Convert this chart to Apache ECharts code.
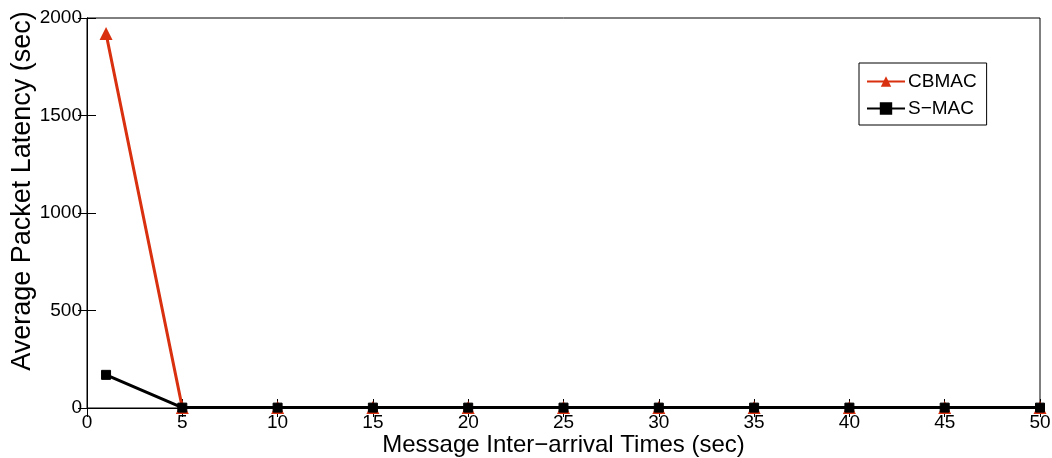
<!DOCTYPE html>
<html><head><meta charset="utf-8">
<script src="https://cdn.jsdelivr.net/npm/echarts@6/dist/echarts.min.js"></script>
<style>html,body{margin:0;padding:0;background:#fff}#c{width:1052px;height:458px}</style>
</head><body><div id="c"></div>
<script>
const xValues = [1, 5, 10, 15, 20, 25, 30, 35, 40, 45, 50];
const cbmac = [1920, 2, 2, 2, 2, 2, 2, 2, 2, 2, 2];
const smac = [170, 2, 2, 2, 2, 2, 2, 2, 2, 2, 2];
const seriesNames = ['CBMAC', 'S\u2212MAC'];
const xTitle = 'Message Inter\u2212arrival Times (sec)';
const yTitle = 'Average Packet Latency (sec)';

const font = 'Liberation Sans, Arial, Helvetica, sans-serif';
const chart = echarts.init(document.getElementById('c'));
const tickCommon = {inside: true, length: 9, lineStyle: {color: '#000', width: 1}};
chart.setOption({
  animation: false,
  backgroundColor: '#fff',
  grid: {left: 87, right: 12, top: 18, bottom: 50, show: true, borderColor: '#000', borderWidth: 1,
         containLabel: false, outerBoundsMode: 'none'},
  legend: {
    left: 859, top: 63, orient: 'vertical',
    backgroundColor: '#fff', borderColor: '#000', borderWidth: 1,
    padding: [9, 10, 7, 7], itemGap: 8, itemWidth: 38, itemHeight: 13,
    textStyle: {fontFamily: font, fontSize: 19, color: '#000', padding: [0, 0, 0, -2]},
    data: seriesNames
  },
  xAxis: [{
    type: 'value', min: 0, max: 50, interval: 5,
    name: xTitle, nameLocation: 'middle', nameGap: 25, nameMoveOverlap: false,
    nameTextStyle: {fontFamily: font, fontSize: 24, color: '#000'},
    axisLine: {show: true, lineStyle: {color: '#000'}},
    axisTick: tickCommon,
    axisLabel: {fontFamily: font, fontSize: 19, color: '#000', margin: 5},
    splitLine: {show: false}
  }, {
    type: 'value', min: 0, max: 50, interval: 5, position: 'top',
    axisLine: {show: true, lineStyle: {color: '#000'}},
    axisTick: tickCommon, axisLabel: {show: false}, splitLine: {show: false}
  }],
  yAxis: [{
    type: 'value', min: 0, max: 2000, interval: 500,
    name: yTitle, nameLocation: 'middle', nameGap: 51, nameMoveOverlap: false,
    nameTextStyle: {fontFamily: font, fontSize: 27, color: '#000', padding: [0, 0, 0, 44]},
    axisLine: {show: true, lineStyle: {color: '#000'}},
    axisTick: tickCommon,
    axisLabel: {fontFamily: font, fontSize: 19, color: '#000', margin: 5, formatter: v => String(v)},
    splitLine: {show: false}
  }, {
    type: 'value', min: 0, max: 2000, interval: 500, position: 'right',
    axisLine: {show: true, lineStyle: {color: '#000'}},
    axisTick: tickCommon, axisLabel: {show: false}, splitLine: {show: false}
  }],
  series: [{
    name: seriesNames[0], type: 'line',
    data: xValues.map((x, i) => [x, cbmac[i]]),
    lineStyle: {color: '#d9300f', width: 3},
    itemStyle: {color: '#d9300f'},
    symbol: 'triangle', symbolSize: 13, showAllSymbol: true,
    z: 2
  }, {
    name: seriesNames[1], type: 'line',
    data: xValues.map((x, i) => [x, smac[i]]),
    lineStyle: {color: '#000', width: 3},
    itemStyle: {color: '#000', borderColor: '#000', borderWidth: 1},
    symbol: 'rect', symbolSize: 9, showAllSymbol: true,
    z: 3
  }]
});
</script></body></html>
